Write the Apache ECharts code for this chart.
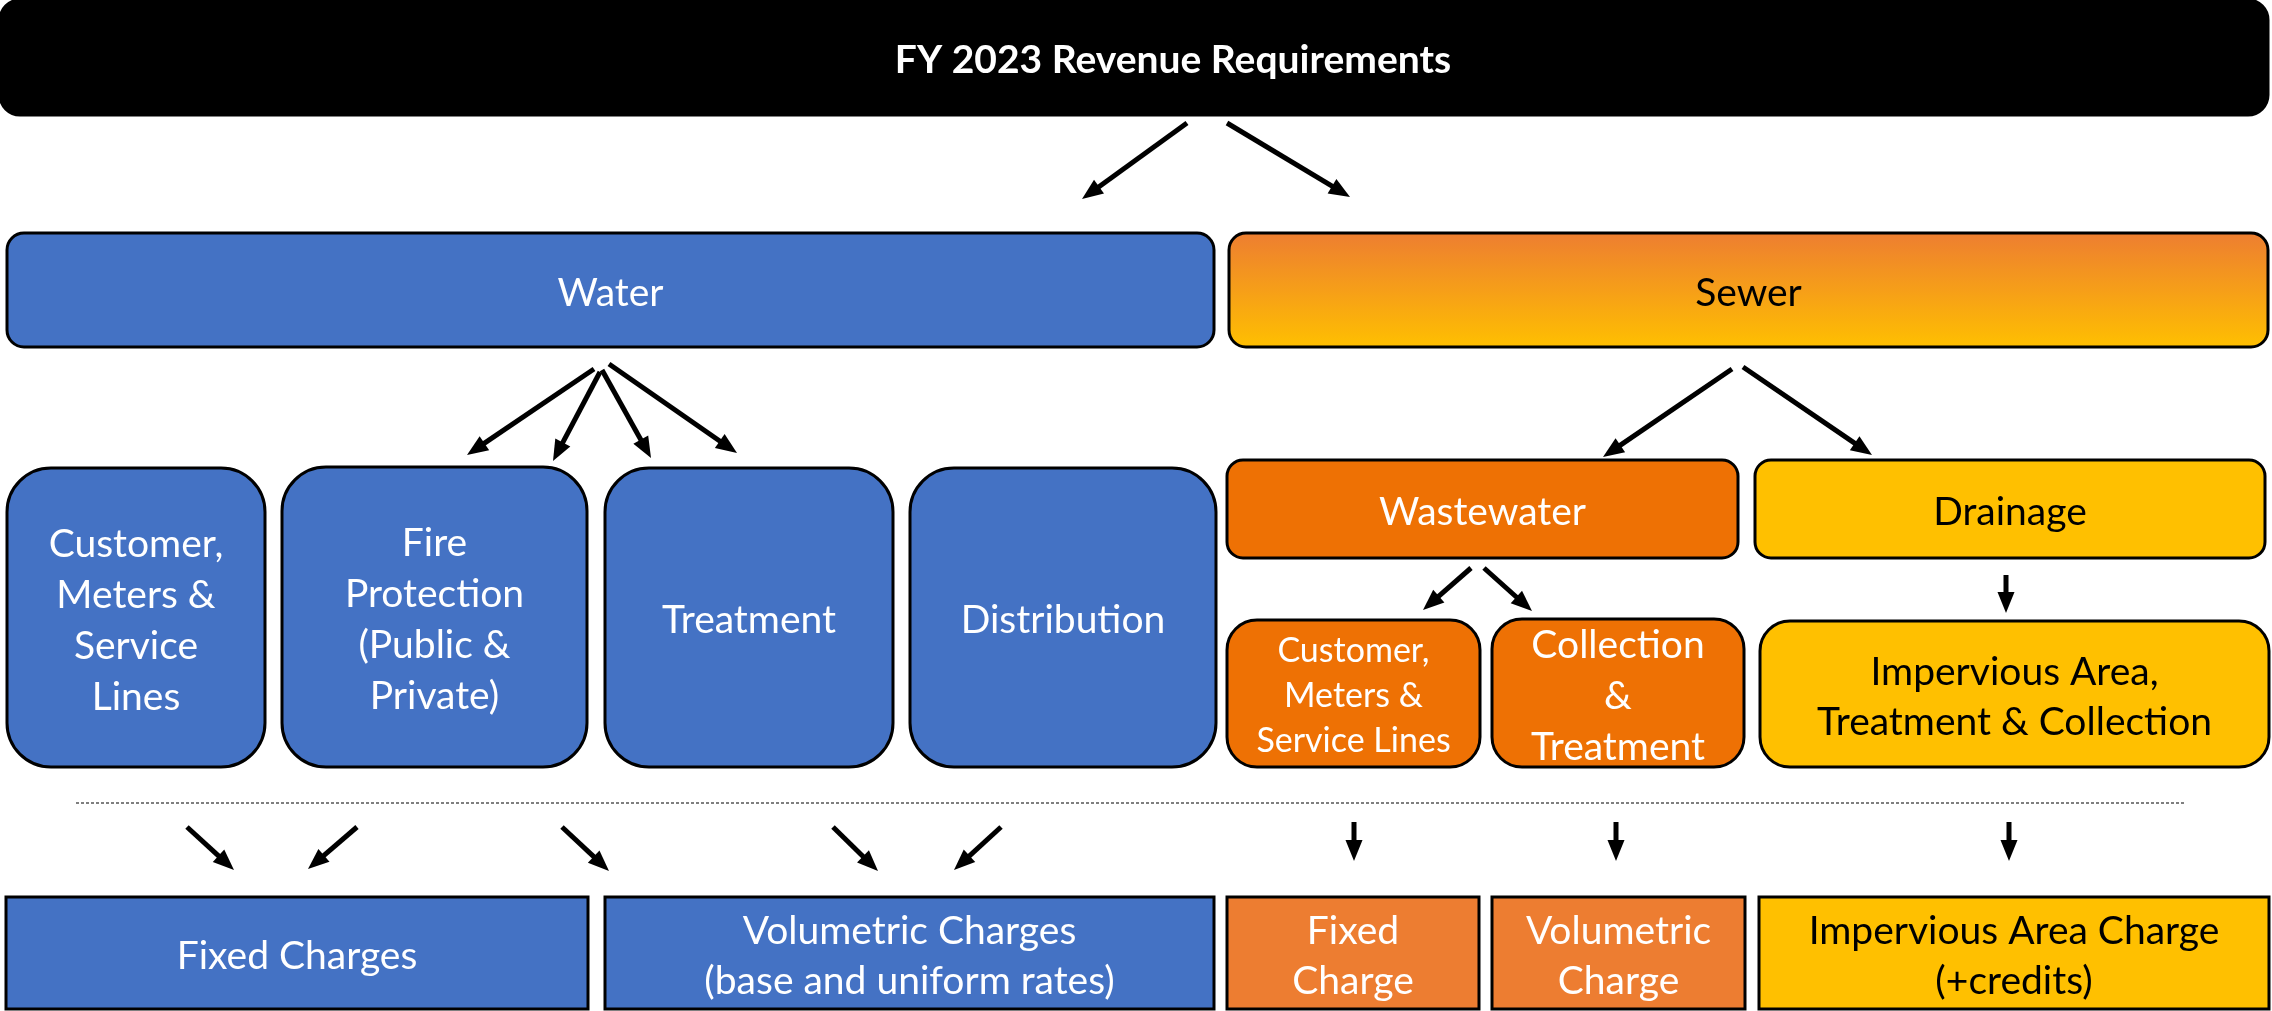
<!DOCTYPE html>
<html><head><meta charset="utf-8">
<script src="https://cdn.jsdelivr.net/npm/echarts@6/dist/echarts.min.js"></script>
<style>html,body{margin:0;padding:0;background:#fff}#c{width:2272px;height:1011px}</style>
</head><body><div id="c"></div>
<script>
// ---- diagram data (in diagram units) ----
const nodeNames = [
  'FY 2023 Revenue Requirements', 'Water', 'Sewer',
  'Customer,\nMeters &\nService\nLines', 'Fire\nProtection\n(Public &\nPrivate)', 'Treatment', 'Distribution',
  'Wastewater', 'Drainage',
  'Customer,\nMeters &\nService Lines', 'Collection\n&\nTreatment', 'Impervious Area,\nTreatment & Collection',
  'Fixed Charges', 'Volumetric Charges\n(base and uniform rates)', 'Fixed\nCharge', 'Volumetric\nCharge', 'Impervious Area Charge\n(+credits)'
];
const nodeKinds = [
  'root', 'water', 'sewer',
  'waterSub', 'waterSub', 'waterSub', 'waterSub',
  'wastewater', 'drainage',
  'wastewaterSubSmall', 'wastewaterSub', 'drainageSub',
  'waterCharge', 'waterCharge', 'sewerCharge', 'sewerCharge', 'drainageCharge'
];
const nodeLeft   = [0, 7, 1229, 7, 282, 605, 910, 1227, 1755, 1227, 1492, 1760, 6, 605, 1227, 1492, 1759];
const nodeRight  = [2268, 1214, 2268, 265, 587, 893, 1216, 1738, 2265, 1480, 1744, 2269, 588, 1214, 1479, 1745, 2269];
const nodeTop    = [0, 233, 233, 468, 467, 468, 468, 460, 460, 620, 619, 621, 897, 897, 897, 897, 897];
const nodeBottom = [115, 347, 347, 767, 767, 767, 767, 558, 558, 767, 767, 767, 1009, 1009, 1009, 1009, 1009];

const arrowStart = [
  [1187, 123], [1227, 123],
  [594, 369], [600, 372], [602, 370], [609, 364],
  [1732, 369], [1743, 367],
  [1471, 568], [1484, 568], [2006, 575],
  [187, 827], [357, 827], [562, 827], [833, 827], [1001, 827],
  [1354, 822], [1616, 822], [2009, 822]
];
const arrowEnd = [
  [1082, 199], [1350, 197],
  [467, 455], [553, 461], [651, 458], [737, 453],
  [1603, 457], [1872, 455],
  [1423, 610], [1532, 611], [2006, 613],
  [234, 870], [308, 869], [609, 871], [878, 871], [954, 870],
  [1354, 861], [1616, 861], [2009, 861]
];
const dividerStart = [76, 803];
const dividerEnd = [2186, 803];

// ---- styles ----
const FONT = 'Lato, "Noto Sans", sans-serif';
const kindStyle = {
  root:               { fill: '#000000', text: '#ffffff', size: 39, weight: 'bold', lh: 46, r: 20, dx: 39 },
  water:              { fill: '#4472C4', text: '#ffffff', size: 39, weight: 'normal', lh: 50, r: 17 },
  sewer:              { fill: 'grad',    text: '#000000', size: 39, weight: 'normal', lh: 50, r: 17 },
  waterSub:           { fill: '#4472C4', text: '#ffffff', size: 39, weight: 'normal', lh: 51, r: 44 },
  wastewater:         { fill: '#EE7104', text: '#ffffff', size: 39, weight: 'normal', lh: 50, r: 16 },
  drainage:           { fill: '#FFC000', text: '#000000', size: 39, weight: 'normal', lh: 50, r: 16 },
  wastewaterSubSmall: { fill: '#EE7104', text: '#ffffff', size: 34, weight: 'normal', lh: 45, r: 30 },
  wastewaterSub:      { fill: '#EE7104', text: '#ffffff', size: 39, weight: 'normal', lh: 51, r: 30 },
  drainageSub:        { fill: '#FFC000', text: '#000000', size: 39, weight: 'normal', lh: 50, r: 30 },
  waterCharge:        { fill: '#4472C4', text: '#ffffff', size: 39, weight: 'normal', lh: 50, r: 0 },
  sewerCharge:        { fill: '#ED7D31', text: '#ffffff', size: 39, weight: 'normal', lh: 50, r: 0 },
  drainageCharge:     { fill: '#FFC000', text: '#000000', size: 39, weight: 'normal', lh: 50, r: 0 }
};
const TEXT_DY = 3;

const chart = echarts.init(document.getElementById('c'), null, { renderer: 'canvas' });

const boxData = nodeNames.map((n, i) => [nodeLeft[i], nodeTop[i], nodeRight[i], nodeBottom[i]]);
const arrowData = arrowStart.map((s, i) => [s[0], s[1], arrowEnd[i][0], arrowEnd[i][1]]);

function renderBox(params, api) {
  const i = params.dataIndex;
  const st = kindStyle[nodeKinds[i]];
  const p0 = api.coord([api.value(0), api.value(1)]);
  const p1 = api.coord([api.value(2), api.value(3)]);
  const x = p0[0], y = p0[1], w = p1[0] - p0[0], h = p1[1] - p0[1];
  let fill = st.fill;
  if (fill === 'grad') {
    fill = new echarts.graphic.LinearGradient(0, 0, 0, 1, [
      { offset: 0, color: '#ED7D31' }, { offset: 1, color: '#FFC000' }
    ]);
  }
  return {
    type: 'group',
    children: [
      { type: 'rect', shape: { x: x, y: y, width: w, height: h, r: st.r },
        style: { fill: fill, stroke: '#000', lineWidth: 3 } },
      { type: 'text',
        style: { text: nodeNames[i], x: x + w / 2 + (st.dx || 0), y: y + h / 2 + TEXT_DY, align: 'center', verticalAlign: 'middle',
                 fill: st.text, fontFamily: FONT, fontSize: st.size, fontWeight: st.weight, lineHeight: st.lh } }
    ]
  };
}

function renderArrow(params, api) {
  const p0 = api.coord([api.value(0), api.value(1)]);
  const p1 = api.coord([api.value(2), api.value(3)]);
  const dx = p1[0] - p0[0], dy = p1[1] - p0[1];
  const L = Math.hypot(dx, dy), ux = dx / L, uy = dy / L;
  const headLen = 21, headW = 8.5;
  const bx = p1[0] - ux * headLen, by = p1[1] - uy * headLen;
  return {
    type: 'group',
    children: [
      { type: 'line', shape: { x1: p0[0], y1: p0[1], x2: bx + ux * 3, y2: by + uy * 3 },
        style: { stroke: '#000', lineWidth: 5 } },
      { type: 'polygon', shape: { points: [[p1[0], p1[1]], [bx - uy * headW, by + ux * headW], [bx + uy * headW, by - ux * headW]] },
        style: { fill: '#000' } }
    ]
  };
}

chart.setOption({
  animation: false,
  backgroundColor: '#ffffff',
  grid: { left: 0, right: 0, top: 0, bottom: 0 },
  xAxis: { type: 'value', min: 0, max: 2272, show: false },
  yAxis: { type: 'value', min: 0, max: 1011, inverse: true, show: false },
  series: [
    { type: 'custom', name: 'boxes', renderItem: renderBox, data: boxData, clip: false,
      encode: { x: [0, 2], y: [1, 3] } },
    { type: 'custom', name: 'arrows', renderItem: renderArrow, data: arrowData, clip: false,
      encode: { x: [0, 2], y: [1, 3] } },
    { type: 'lines', coordinateSystem: 'cartesian2d', silent: true,
      data: [{ coords: [dividerStart, dividerEnd] }],
      lineStyle: { color: '#555', width: 1.5, type: [3, 2], opacity: 1 }, symbol: 'none' }
  ]
});
</script>
</body></html>
